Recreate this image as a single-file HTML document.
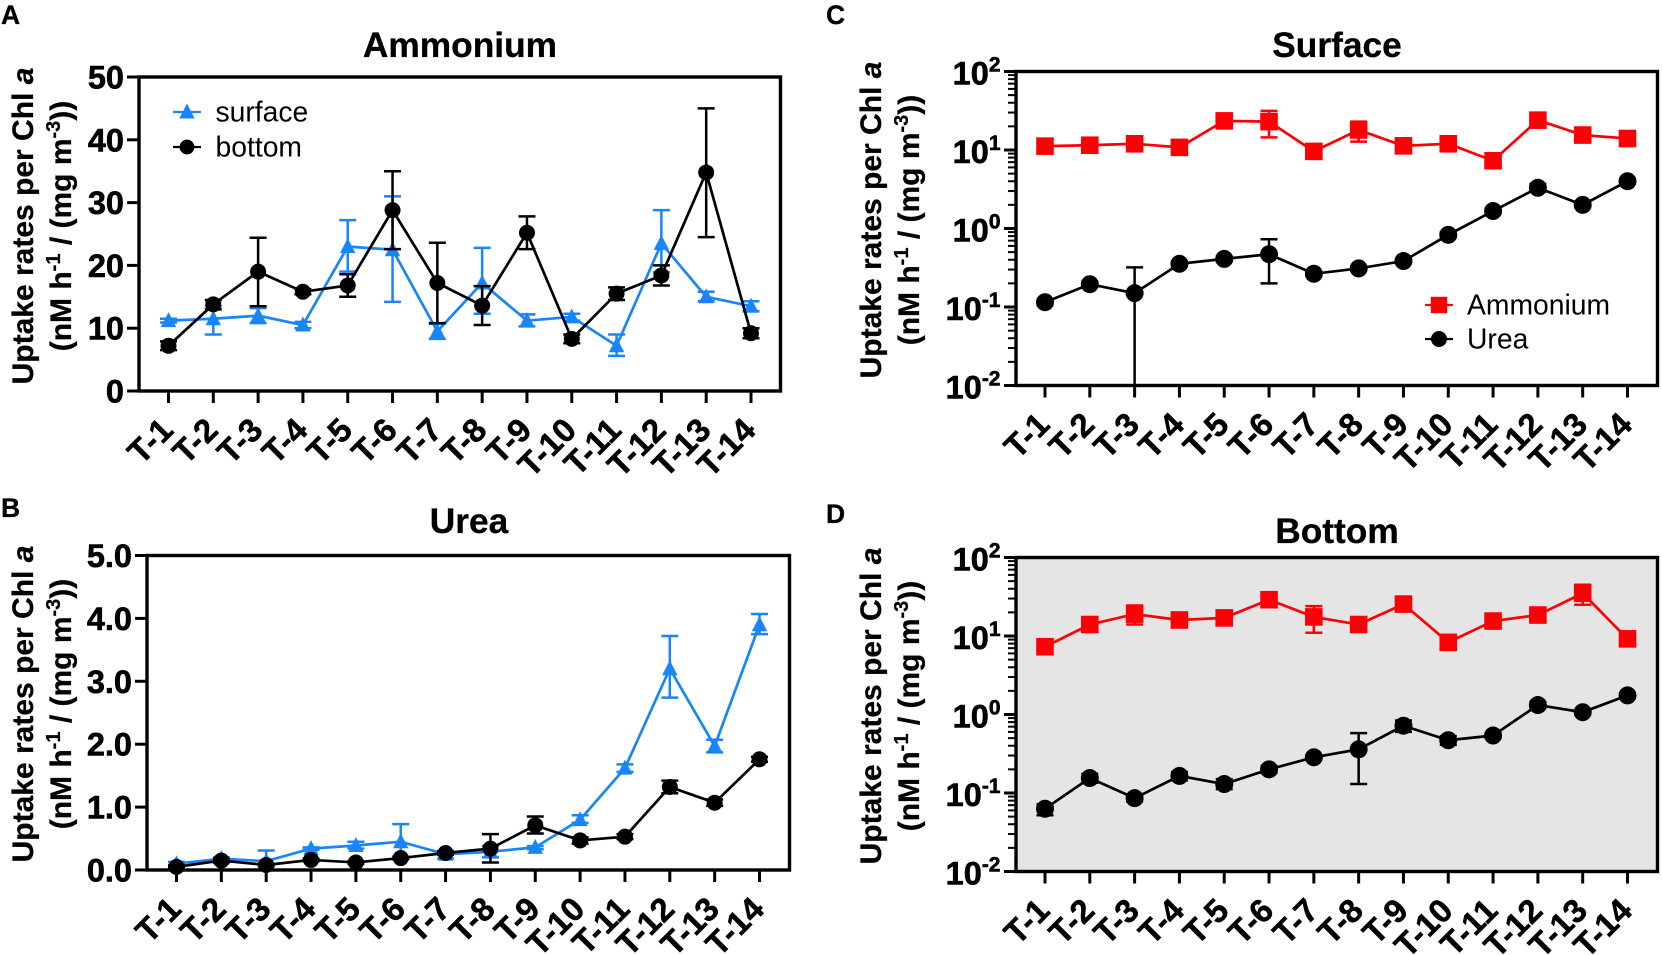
<!DOCTYPE html>
<html lang="en">
<head>
<meta charset="utf-8">
<title>Uptake rates per Chl a</title>
<style>
html,body{margin:0;padding:0;background:#fff;width:1662px;height:955px;overflow:hidden}
svg{display:block;font-family:"Liberation Sans",Arial,sans-serif}
.letter{font-size:26.5px;font-weight:700;stroke:#000;stroke-width:.3px}
.title{font-size:35.3px;font-weight:700;text-anchor:middle;stroke:#000;stroke-width:.3px}
.ytitle{font-size:30px;font-weight:700;text-anchor:middle;stroke:#000;stroke-width:.25px}
.sup{font-size:20px}
.ylab{font-size:32.5px;font-weight:700;text-anchor:end;stroke:#000;stroke-width:.6px}
.xlab{font-size:33px;font-weight:700;text-anchor:end;stroke:#000;stroke-width:.5px}
.leg{font-size:28.3px}
</style>
</head>
<body>
<svg id="fig" xmlns="http://www.w3.org/2000/svg" width="1662" height="955" viewBox="0 0 1662 955">
  <rect x="0" y="0" width="1662" height="955" fill="#fff"/>
  <rect x="1016" y="557" width="641" height="314" fill="#e5e5e5"/>

  <text class="letter" x="1" y="24">A</text>
  <text class="letter" x="1" y="517">B</text>
  <text class="letter" x="826" y="24">C</text>
  <text class="letter" x="826" y="523">D</text>

  <text class="title" x="460" y="57">Ammonium</text>
  <text class="title" x="469" y="533">Urea</text>
  <text class="title" x="1337" y="57">Surface</text>
  <text class="title" x="1337" y="543">Bottom</text>

  <g>
    <text class="ytitle" transform="translate(33,226) rotate(-90)">Uptake rates per Chl <tspan font-style="italic">a</tspan></text>
    <text class="ytitle" transform="translate(71,226) rotate(-90)">(nM h<tspan class="sup" dy="-11">-1</tspan><tspan dy="11"> / (mg m</tspan><tspan class="sup" dy="-11">-3</tspan><tspan dy="11">))</tspan></text>
  </g>
  <g>
    <text class="ytitle" transform="translate(33,704) rotate(-90)">Uptake rates per Chl <tspan font-style="italic">a</tspan></text>
    <text class="ytitle" transform="translate(71,704) rotate(-90)">(nM h<tspan class="sup" dy="-11">-1</tspan><tspan dy="11"> / (mg m</tspan><tspan class="sup" dy="-11">-3</tspan><tspan dy="11">))</tspan></text>
  </g>
  <g>
    <text class="ytitle" transform="translate(881,220) rotate(-90)">Uptake rates per Chl <tspan font-style="italic">a</tspan></text>
    <text class="ytitle" transform="translate(919,220) rotate(-90)">(nM h<tspan class="sup" dy="-11">-1</tspan><tspan dy="11"> / (mg m</tspan><tspan class="sup" dy="-11">-3</tspan><tspan dy="11">))</tspan></text>
  </g>
  <g>
    <text class="ytitle" transform="translate(881,706) rotate(-90)">Uptake rates per Chl <tspan font-style="italic">a</tspan></text>
    <text class="ytitle" transform="translate(919,706) rotate(-90)">(nM h<tspan class="sup" dy="-11">-1</tspan><tspan dy="11"> / (mg m</tspan><tspan class="sup" dy="-11">-3</tspan><tspan dy="11">))</tspan></text>
  </g>
</svg>
<script>
// ---- categories and tick labels ----
var categories = ['T-1','T-2','T-3','T-4','T-5','T-6','T-7','T-8','T-9','T-10','T-11','T-12','T-13','T-14'];
var ammoniumAxisTicks = [0,10,20,30,40,50];
var ammoniumAxisLabels = ['0','10','20','30','40','50'];
var ureaAxisTicks = [0,1,2,3,4,5];
var ureaAxisLabels = ['0.0','1.0','2.0','3.0','4.0','5.0'];
var logExponents = [-2,-1,0,1,2];
var logExponentLabels = ['-2','-1','0','1','2'];

// ---- panel A: ammonium ----
var ammoniumSurface     = [11.2,11.5,12,10.5,23,22.5,9.5,17.2,11.2,11.8,7.2,23.5,15,13.5];
var ammoniumSurfaceHigh = [11.5,13.5,13.2,11,27.2,31,10.7,22.8,12.2,12.3,9,28.8,15.8,14.3];
var ammoniumSurfaceLow  = [10.9,9,10.8,10,19,14.2,8.3,12.3,10.3,11.2,5.6,18.9,14.3,12.7];
var ammoniumBottom      = [7.2,13.8,19,15.8,16.8,28.8,17.2,13.6,25.2,8.3,15.5,18.4,34.8,9.2];
var ammoniumBottomHigh  = [7.9,14.5,24.4,16.2,18.6,35,23.6,16.7,27.8,9,16.5,20,45,10];
var ammoniumBottomLow   = [6.5,13,13.5,15.4,15,22.6,10.8,10.5,22.6,7.6,14.5,16.8,24.5,8.4];

// ---- panel B: urea ----
var ureaSurface     = [0.1,0.18,0.14,0.34,0.39,0.45,0.25,0.29,0.36,0.8,1.62,3.2,1.97,3.9];
var ureaSurfaceHigh = [0.13,0.2,0.31,0.36,0.45,0.73,0.28,0.38,0.38,0.87,1.68,3.72,2.07,4.07];
var ureaSurfaceLow  = [0.08,0.16,0,0.32,0.34,0.18,0.18,0.2,0.33,0.75,1.56,2.74,1.87,3.75];
var ureaBottom      = [0.05,0.15,0.08,0.16,0.12,0.19,0.27,0.34,0.71,0.47,0.53,1.32,1.07,1.76];
var ureaBottomHigh  = [0.07,0.18,0.1,0.18,0.14,0.21,0.3,0.57,0.85,0.52,0.57,1.42,1.12,1.8];
var ureaBottomLow   = [0.03,0.12,0.06,0.14,0.1,0.17,0.24,0.12,0.58,0.42,0.49,1.22,1.02,1.72];

// ---- panel C: surface ----
var surfaceAmmonium     = [11.2,11.5,12,10.8,23.5,23,9.6,18,11.3,12,7.3,24,15.5,14];
var surfaceAmmoniumHigh = [12,12.8,13.5,12,26,31.5,10.5,23,12.3,13,8.5,28,17.5,15.5];
var surfaceAmmoniumLow  = [10.5,10.3,10.7,9.7,21,14.5,8.7,12.8,10.3,11,6,20,13.5,12.5];
var surfaceUrea         = [0.115,0.195,0.15,0.355,0.41,0.47,0.265,0.31,0.385,0.83,1.67,3.3,2,4];
var surfaceUreaHigh     = [0.125,0.21,0.32,0.38,0.44,0.73,0.28,0.33,0.41,0.9,1.8,3.7,2.15,4.3];
var surfaceUreaLow      = [0.105,0.18,0.01,0.33,0.38,0.2,0.25,0.29,0.36,0.77,1.55,2.95,1.85,3.75];

// ---- panel D: bottom ----
var bottomAmmonium     = [7.3,14,19,16,17,29,17.5,14,25.5,8.3,15.5,18.5,35,9.2];
var bottomAmmoniumHigh = [8,15.5,24.5,17.5,18.5,33,24,16,28.5,9.5,17,20,45,10.5];
var bottomAmmoniumLow  = [6.5,12.5,14,14.5,15.5,25,11,12,23,7.5,14,17,25,8];
var bottomUrea         = [0.063,0.155,0.086,0.165,0.13,0.2,0.285,0.36,0.72,0.47,0.54,1.32,1.07,1.75];
var bottomUreaHigh     = [0.072,0.175,0.095,0.185,0.15,0.22,0.3,0.58,0.84,0.53,0.58,1.45,1.15,1.85];
var bottomUreaLow      = [0.052,0.135,0.078,0.145,0.112,0.18,0.27,0.13,0.6,0.41,0.5,1.2,1,1.65];

var NS = 'http://www.w3.org/2000/svg';
var fig = document.getElementById('fig');
var BLUE = '#1885fb', BLACK = '#000', RED = '#fd0006';

function mk(parent, tag, attrs, txt) {
  var el = document.createElementNS(NS, tag);
  for (var k in attrs) el.setAttribute(k, attrs[k]);
  if (txt !== undefined) el.textContent = txt;
  parent.appendChild(el);
  return el;
}
function line(parent, x1, y1, x2, y2, color, w) {
  return mk(parent, 'line', {x1:x1, y1:y1, x2:x2, y2:y2, stroke:color, 'stroke-width':w});
}
function marker(parent, shape, x, y, color, r) {
  if (shape === 'triangle') {
    return mk(parent, 'polygon', {points:(x)+','+(y-8.5)+' '+(x+7.7)+','+(y+6.5)+' '+(x-7.7)+','+(y+6.5), fill:color});
  }
  if (shape === 'square') {
    return mk(parent, 'rect', {x:x-r, y:y-r, width:2*r, height:2*r, fill:color});
  }
  return mk(parent, 'circle', {cx:x, cy:y, r:r, fill:color});
}

function makeLinearY(p, maxV) {
  return function (v) { return p.bottom - (v / maxV) * (p.bottom - p.top); };
}
function makeLogY(p, minExp, maxExp) {
  return function (v) { return p.bottom - ((Math.log10(v) - minExp) / (maxExp - minExp)) * (p.bottom - p.top); };
}
function makeX(p) {
  return function (i) { return p.x0 + i * (p.x13 - p.x0) / (categories.length - 1); };
}

function drawFrame(p, name, yScale, ticks, labels, isLog) {
  var g = mk(fig, 'g', {});
  
  
  var x = makeX(p);
  mk(g, 'rect', {x:p.left, y:p.top, width:p.right - p.left, height:p.bottom - p.top, fill:'none', stroke:'#000', 'stroke-width':3.4});
  categories.forEach(function (c, i) {
    line(g, x(i), p.bottom, x(i), p.bottom + 12, '#000', 3);
    var t = mk(g, 'text', {'class':'xlab', transform:'translate(' + (x(i) + 6.5) + ',' + (p.bottom + 41) + ') rotate(-45)'}, c);
    
    
  });
  ticks.forEach(function (v, i) {
    if (isLog) {
      var yy = yScale(Math.pow(10, v));
      line(g, p.left - 12, yy, p.left, yy, '#000', 3);
      var tl = mk(g, 'text', {'class':'ylab', x:p.left - 15.5, y:yy + 13});
      
      
      mk(tl, 'tspan', {}, '10');
      mk(tl, 'tspan', {dy:-13, 'font-size':'21'}, labels[i]);
      if (i < ticks.length - 1) {
        for (var m = 2; m <= 9; m++) {
          var ym = yScale(m * Math.pow(10, v));
          line(g, p.left - 8, ym, p.left, ym, '#000', 2);
        }
      }
    } else {
      var y = yScale(v);
      line(g, p.left - 12, y, p.left, y, '#000', 3);
      var tlab = mk(g, 'text', {'class':'ylab', x:p.left - 15, y:y + 11.5}, labels[i]);
      
      
    }
  });
}

function drawSeries(p, name, yScale, vals, hi, lo, color, shape, r) {
  var g = mk(fig, 'g', {});
  
  
  var x = makeX(p);
  var pts = vals.map(function (v, i) { return x(i).toFixed(2) + ',' + yScale(v).toFixed(2); }).join(' ');
  vals.forEach(function (v, i) {
    var xi = x(i), yh = yScale(hi[i]), yl = Math.min(yScale(lo[i]), p.bottom);
    if (!isFinite(yl)) yl = p.bottom;
    line(g, xi, yh, xi, yl, color, 2.5);
    line(g, xi - 8.5, yh, xi + 8.5, yh, color, 2.5);
    if (yl < p.bottom - 1) line(g, xi - 8.5, yl, xi + 8.5, yl, color, 2.5);
  });
  mk(g, 'polyline', {points:pts, fill:'none', stroke:color, 'stroke-width':2.7});
  vals.forEach(function (v, i) {
    var mkr = marker(g, shape, x(i), yScale(v), color, r);
    
    
  });
}

function drawLegendEntry(name, x, y, txt, color, shape, tx, halfLen, r) {
  var g = mk(fig, 'g', {});
  
  
  line(g, x - halfLen, y, x + halfLen, y, color, 2.3);
  marker(g, shape, x, y, color, r);
  mk(g, 'text', {'class':'leg', x:tx, y:y + 9.5}, txt);
}

var panelA = {left:139, right:780.5, top:77, bottom:391, x0:168.5, x13:751};
var panelB = {left:147, right:789.5, top:555.5, bottom:870, x0:176.5, x13:759.5};
var panelC = {left:1016, right:1657.5, top:71.5, bottom:385.5, x0:1045, x13:1627.5};
var panelD = {left:1016, right:1657.5, top:557.5, bottom:871.5, x0:1045, x13:1627.5};

var yA = makeLinearY(panelA, 50);
drawFrame(panelA, 'panel-a', yA, ammoniumAxisTicks, ammoniumAxisLabels, false);
drawSeries(panelA, 'panel-a-surface-series', yA, ammoniumSurface, ammoniumSurfaceHigh, ammoniumSurfaceLow, BLUE, 'triangle', 8);
drawSeries(panelA, 'panel-a-bottom-series', yA, ammoniumBottom, ammoniumBottomHigh, ammoniumBottomLow, BLACK, 'circle', 8);
drawLegendEntry('legend-entry-surface', 187, 112, 'surface', BLUE, 'triangle', 215.5, 14, 7.4);
drawLegendEntry('legend-entry-bottom', 187, 147, 'bottom', BLACK, 'circle', 215.5, 14, 7.4);

var yB = makeLinearY(panelB, 5);
drawFrame(panelB, 'panel-b', yB, ureaAxisTicks, ureaAxisLabels, false);
drawSeries(panelB, 'panel-b-surface-series', yB, ureaSurface, ureaSurfaceHigh, ureaSurfaceLow, BLUE, 'triangle', 8);
drawSeries(panelB, 'panel-b-bottom-series', yB, ureaBottom, ureaBottomHigh, ureaBottomLow, BLACK, 'circle', 8);

var yC = makeLogY(panelC, -2, 2);
drawFrame(panelC, 'panel-c', yC, logExponents, logExponentLabels, true);
drawSeries(panelC, 'panel-c-urea-series', yC, surfaceUrea, surfaceUreaHigh, surfaceUreaLow, BLACK, 'circle', 9);
drawSeries(panelC, 'panel-c-ammonium-series', yC, surfaceAmmonium, surfaceAmmoniumHigh, surfaceAmmoniumLow, RED, 'square', 8.8);
drawLegendEntry('legend-entry-ammonium', 1439, 305, 'Ammonium', RED, 'square', 1467, 14, 8.2);
drawLegendEntry('legend-entry-urea', 1439, 339, 'Urea', BLACK, 'circle', 1467, 14, 8);

var yD = makeLogY(panelD, -2, 2);
drawFrame(panelD, 'panel-d', yD, logExponents, logExponentLabels, true);
drawSeries(panelD, 'panel-d-urea-series', yD, bottomUrea, bottomUreaHigh, bottomUreaLow, BLACK, 'circle', 9);
drawSeries(panelD, 'panel-d-ammonium-series', yD, bottomAmmonium, bottomAmmoniumHigh, bottomAmmoniumLow, RED, 'square', 8.8);
</script>
</body>
</html>
